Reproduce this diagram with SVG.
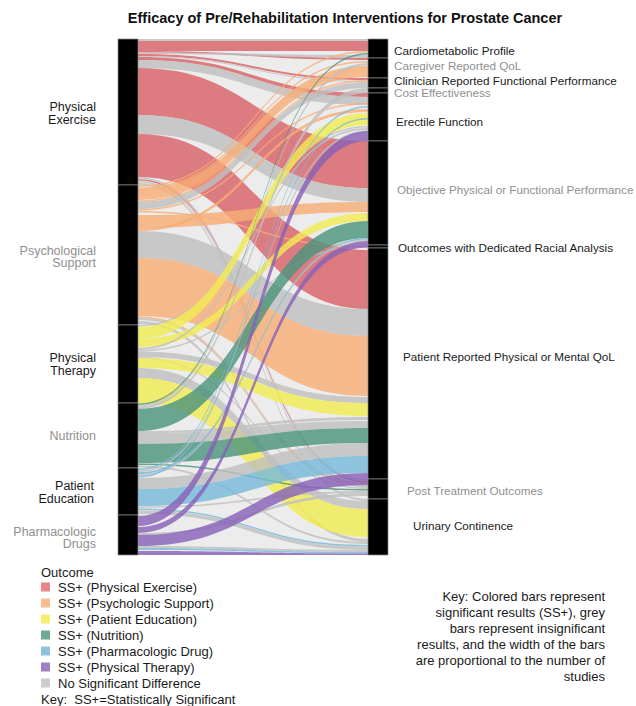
<svg xmlns="http://www.w3.org/2000/svg" width="636" height="706" viewBox="0 0 636 706">
<style>
text{font-family:"Liberation Sans",Arial,sans-serif;}
.lbl{font-size:12.5px;}
.rl{font-size:11.7px;}
.dk{fill:#1a1a1a;}
.gy{fill:#8f8f8f;}
.node{fill:#000;stroke:#8a8a8a;stroke-width:0.7;}
#connectors path{fill-opacity:0.8;stroke:none;}
.r{fill:#d96065;}.p{fill:#f7ac74;}.y{fill:#f1ec51;}.t{fill:#4a937c;}.b{fill:#77b9db;}.u{fill:#8760b8;}.g{fill:#bfbfbf;}
.leg{font-size:13px;fill:#1a1a1a;}
</style>
<rect width="636" height="706" fill="#ffffff"/>
<text x="345" y="23" text-anchor="middle" font-weight="bold" font-size="14.5" fill="#111">Efficacy of Pre/Rehabilitation Interventions for Prostate Cancer</text>
<rect x="138" y="39" width="230" height="516" fill="#ececec"/>
<g id="connectors">
<path class="g" d="M138 39 C253 39 253 39 368 39 L368 41 C253 41 253 41 138 41Z"/>
<path class="r" d="M138 41 C253 41 253 41 368 41 L368 51 C253 51 253 51 138 51Z"/>
<path class="r" d="M138 51 C253 51 253 58 368 58 L368 60 C253 60 253 52.5 138 52.5Z"/>
<path class="g" d="M138 52.5 C253 52.5 253 55 368 55 L368 58 C253 58 253 54 138 54Z"/>
<path class="r" d="M138 54 C253 54 253 78 368 78 L368 80 C253 80 253 56 138 56Z"/>
<path class="g" d="M138 56 C253 56 253 81 368 81 L368 82 C253 82 253 57 138 57Z"/>
<path class="r" d="M138 57 C253 57 253 93 368 93 L368 97 C253 97 253 60 138 60Z"/>
<path class="g" d="M138 60 C253 60 253 97 368 97 L368 105 C253 105 253 68 138 68Z"/>
<path class="r" d="M138 68 C253 68 253 141 368 141 L368 188 C253 188 253 115 138 115Z"/>
<path class="g" d="M138 115 C253 115 253 188 368 188 L368 202 C253 202 253 134 138 134Z"/>
<path class="r" d="M138 134 C253 134 253 250 368 250 L368 309 C253 309 253 177 138 177Z"/>
<path class="g" d="M138 177 C253 177 253 479 368 479 L368 480.5 C253 480.5 253 178.5 138 178.5Z"/>
<path class="r" d="M138 179 C253 179 253 481 368 481 L368 482.5 C253 482.5 253 180.5 138 180.5Z"/>
<path class="g" d="M138 181 C253 181 253 486 368 486 L368 487.5 C253 487.5 253 182.5 138 182.5Z"/>
<path class="g" d="M138 183 C253 183 253 499 368 499 L368 501 C253 501 253 185 138 185Z"/>
<path class="p" d="M138 185.5 C253 185.5 253 51 368 51 L368 52.5 C253 52.5 253 187 138 187Z"/>
<path class="p" d="M138 187.5 C253 187.5 253 61 368 61 L368 62.5 C253 62.5 253 189 138 189Z"/>
<path class="p" d="M138 189 C253 189 253 66 368 66 L368 75 C253 75 253 198 138 198Z"/>
<path class="p" d="M138 198 C253 198 253 75 368 75 L368 77 C253 77 253 200 138 200Z"/>
<path class="p" d="M138 200.5 C253 200.5 253 80 368 80 L368 81.5 C253 81.5 253 202 138 202Z"/>
<path class="g" d="M138 202 C253 202 253 82 368 82 L368 88 C253 88 253 209 138 209Z"/>
<path class="p" d="M138 209 C253 209 253 103 368 103 L368 104.5 C253 104.5 253 210.5 138 210.5Z"/>
<path class="p" d="M138 211 C253 211 253 246 368 246 L368 247.5 C253 247.5 253 212.5 138 212.5Z"/>
<path class="p" d="M138 215 C253 215 253 202 368 202 L368 212 C253 212 253 228 138 228Z"/>
<path class="p" d="M138 228 C253 228 253 109 368 109 L368 112 C253 112 253 231 138 231Z"/>
<path class="g" d="M138 231 C253 231 253 309 368 309 L368 336 C253 336 253 258 138 258Z"/>
<path class="p" d="M138 258 C253 258 253 336 368 336 L368 396 C253 396 253 316 138 316Z"/>
<path class="p" d="M138 316.5 C253 316.5 253 483 368 483 L368 484.5 C253 484.5 253 318 138 318Z"/>
<path class="g" d="M138 318 C253 318 253 485 368 485 L368 487 C253 487 253 320 138 320Z"/>
<path class="g" d="M138 321 C253 321 253 539 368 539 L368 542 C253 542 253 324 138 324Z"/>
<path class="g" d="M138 325 C253 325 253 126 368 126 L368 127.5 C253 127.5 253 326.5 138 326.5Z"/>
<path class="y" d="M138 327 C253 327 253 113 368 113 L368 125 C253 125 253 339 138 339Z"/>
<path class="y" d="M138 339 C253 339 253 213 368 213 L368 221 C253 221 253 347 138 347Z"/>
<path class="g" d="M138 348 C253 348 253 128 368 128 L368 130 C253 130 253 350 138 350Z"/>
<path class="g" d="M138 350 C253 350 253 245 368 245 L368 246.5 C253 246.5 253 351.5 138 351.5Z"/>
<path class="g" d="M138 351.5 C253 351.5 253 397 368 397 L368 403 C253 403 253 357 138 357Z"/>
<path class="g" d="M138 357 C253 357 253 487.5 368 487.5 L368 489 C253 489 253 358.5 138 358.5Z"/>
<path class="y" d="M138 358 C253 358 253 403 368 403 L368 416 C253 416 253 368 138 368Z"/>
<path class="g" d="M138 368 C253 368 253 501 368 501 L368 509 C253 509 253 378 138 378Z"/>
<path class="y" d="M138 378 C253 378 253 509 368 509 L368 537 C253 537 253 403 138 403Z"/>
<path class="t" d="M138 403.5 C253 403.5 253 53 368 53 L368 54.5 C253 54.5 253 405 138 405Z"/>
<path class="g" d="M138 405 C253 405 253 63 368 63 L368 65.5 C253 65.5 253 406.5 138 406.5Z"/>
<path class="g" d="M138 406.5 C253 406.5 253 88 368 88 L368 93 C253 93 253 409 138 409Z"/>
<path class="t" d="M138 409 C253 409 253 221 368 221 L368 238 C253 238 253 431 138 431Z"/>
<path class="g" d="M138 431 C253 431 253 417 368 417 L368 420 C253 420 253 433 138 433Z"/>
<path class="g" d="M138 433 C253 433 253 421 368 421 L368 428 C253 428 253 444 138 444Z"/>
<path class="t" d="M138 444 C253 444 253 428 368 428 L368 443 C253 443 253 463 138 463Z"/>
<path class="t" d="M138 463.5 C253 463.5 253 489 368 489 L368 490.5 C253 490.5 253 465 138 465Z"/>
<path class="g" d="M138 465.5 C253 465.5 253 542 368 542 L368 544 C253 544 253 467.5 138 467.5Z"/>
<path class="b" d="M138 468.5 C253 468.5 253 106 368 106 L368 107.5 C253 107.5 253 470 138 470Z"/>
<path class="g" d="M138 470 C253 470 253 130.5 368 130.5 L368 133 C253 133 253 472 138 472Z"/>
<path class="b" d="M138 472 C253 472 253 238 368 238 L368 239.5 C253 239.5 253 474 138 474Z"/>
<path class="g" d="M138 474 C253 474 253 239.5 368 239.5 L368 241 C253 241 253 476 138 476Z"/>
<path class="b" d="M138 476 C253 476 253 118 368 118 L368 119.5 C253 119.5 253 477.5 138 477.5Z"/>
<path class="g" d="M138 478 C253 478 253 443 368 443 L368 456 C253 456 253 489 138 489Z"/>
<path class="b" d="M138 489 C253 489 253 456 368 456 L368 473 C253 473 253 506 138 506Z"/>
<path class="g" d="M138 506.5 C253 506.5 253 491 368 491 L368 493 C253 493 253 508 138 508Z"/>
<path class="b" d="M138 508.5 C253 508.5 253 545 368 545 L368 546.5 C253 546.5 253 510 138 510Z"/>
<path class="g" d="M138 510.5 C253 510.5 253 546.5 368 546.5 L368 550 C253 550 253 514 138 514Z"/>
<path class="u" d="M138 516 C253 516 253 131 368 131 L368 141 C253 141 253 526 138 526Z"/>
<path class="u" d="M138 527 C253 527 253 241 368 241 L368 247.5 C253 247.5 253 533 138 533Z"/>
<path class="g" d="M138 533 C253 533 253 493 368 493 L368 496 C253 496 253 535 138 535Z"/>
<path class="u" d="M138 535 C253 535 253 473 368 473 L368 485 C253 485 253 546 138 546Z"/>
<path class="g" d="M138 546 C253 546 253 550 368 550 L368 552 C253 552 253 548 138 548Z"/>
<path class="b" d="M138 548 C253 548 253 552 368 552 L368 553.5 C253 553.5 253 550 138 550Z"/>
<path class="u" d="M138 551 C253 551 253 553.5 368 553.5 L368 555 C253 555 253 555 138 555Z"/>
</g>
<g id="node-physical-exercise"><rect class="node" x="118" y="39" width="20" height="146"/><text class="lbl dk" text-anchor="end"><tspan x="96" y="110.5">Physical</tspan><tspan x="96" y="123.5">Exercise</tspan></text></g>
<g id="node-psychological-support"><rect class="node" x="118" y="185" width="20" height="140"/><text class="lbl gy" text-anchor="end"><tspan x="96" y="254.5">Psychological</tspan><tspan x="96" y="267">Support</tspan></text></g>
<g id="node-physical-therapy"><rect class="node" x="118" y="325" width="20" height="78"/><text class="lbl dk" text-anchor="end"><tspan x="96" y="362">Physical</tspan><tspan x="96" y="374.5">Therapy</tspan></text></g>
<g id="node-nutrition"><rect class="node" x="118" y="403" width="20" height="65"/><text class="lbl gy" text-anchor="end" x="96" y="440">Nutrition</text></g>
<g id="node-patient-education"><rect class="node" x="118" y="468" width="20" height="47"/><text class="lbl dk" text-anchor="end"><tspan x="94" y="490">Patient</tspan><tspan x="94" y="502.5">Education</tspan></text></g>
<g id="node-pharmacologic-drugs"><rect class="node" x="118" y="515" width="20" height="40"/><text class="lbl gy" text-anchor="end"><tspan x="96" y="535.5">Pharmacologic</tspan><tspan x="96" y="548">Drugs</tspan></text></g>
<g id="node-cardiometabolic"><rect class="node" x="368" y="39" width="20" height="19"/><text class="rl dk" x="394" y="55">Cardiometabolic Profile</text></g>
<g id="node-caregiver"><rect class="node" x="368" y="58" width="20" height="20"/><text class="rl gy" x="394" y="70">Caregiver Reported QoL</text></g>
<g id="node-clinician"><rect class="node" x="368" y="78" width="20" height="10"/><text class="rl dk" x="394" y="84.5">Clinician Reported Functional Performance</text></g>
<g id="node-cost"><rect class="node" x="368" y="88" width="20" height="5"/><text class="rl gy" x="394" y="97">Cost Effectiveness</text></g>
<g id="node-erectile"><rect class="node" x="368" y="93" width="20" height="48"/><text class="rl dk" x="396" y="126">Erectile Function</text></g>
<g id="node-objective"><rect class="node" x="368" y="141" width="20" height="104"/><text class="rl gy" x="397" y="193.5" font-size="11.3">Objective Physical or Functional Performance</text></g>
<g id="node-racial"><rect class="node" x="368" y="245" width="20" height="3"/><text class="rl dk" x="398" y="251.5">Outcomes with Dedicated Racial Analysis</text></g>
<g id="node-prqol"><rect class="node" x="368" y="248" width="20" height="231"/><text class="rl dk" x="403" y="360.5">Patient Reported Physical or Mental QoL</text></g>
<g id="node-post"><rect class="node" x="368" y="479" width="20" height="20"/><text class="rl gy" x="407" y="494.5">Post Treatment Outcomes</text></g>
<g id="node-urinary"><rect class="node" x="368" y="499" width="20" height="56"/><text class="rl dk" x="413" y="530">Urinary Continence</text></g>
<g id="legend">
<text class="leg" x="41" y="577">Outcome</text>
<rect x="41" y="582.5" width="9" height="9" fill="#e8868a"/><text class="leg" x="58" y="591.5">SS+ (Physical Exercise)</text>
<rect x="41" y="598.5" width="9" height="9" fill="#f7bd8f"/><text class="leg" x="58" y="607.5">SS+ (Psychologic Support)</text>
<rect x="41" y="614.5" width="9" height="9" fill="#f3ee6e"/><text class="leg" x="58" y="623.5">SS+ (Patient Education)</text>
<rect x="41" y="630.5" width="9" height="9" fill="#6fa895"/><text class="leg" x="58" y="639.5">SS+ (Nutrition)</text>
<rect x="41" y="646.5" width="9" height="9" fill="#8fc3dd"/><text class="leg" x="58" y="655.5">SS+ (Pharmacologic Drug)</text>
<rect x="41" y="662.5" width="9" height="9" fill="#9f80c4"/><text class="leg" x="58" y="671.5">SS+ (Physical Therapy)</text>
<rect x="41" y="678.5" width="9" height="9" fill="#cdcdcd"/><text class="leg" x="58" y="687.5">No Significant Difference</text>
<text class="leg" x="41" y="703.5" style="white-space:pre">Key:  SS+=Statistically Significant</text>
</g>
<g id="key-note">
<text class="leg" text-anchor="end"><tspan x="605" y="601">Key: Colored bars represent</tspan><tspan x="605" y="617">significant results (SS+), grey</tspan><tspan x="605" y="633">bars represent insignificant</tspan><tspan x="605" y="649">results, and the width of the bars</tspan><tspan x="605" y="665">are proportional to the number of</tspan><tspan x="605" y="681">studies</tspan></text>
</g>
</svg>
